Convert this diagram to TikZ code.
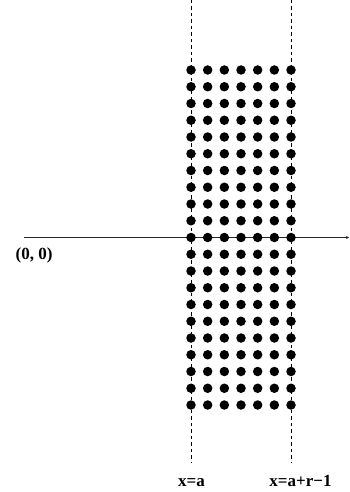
\documentclass[tikz,border=0pt]{standalone}
\usepackage{fontspec}
\setmainfont{Liberation Serif}
\usetikzlibrary{arrows.meta}
\begin{document}
\begin{tikzpicture}[x=1pt,y=-1pt,
  dotnode/.style={circle,fill=black,inner sep=0pt,minimum size=9.5pt},
  guide/.style={line width=0.7pt,dash pattern=on 3.5pt off 3pt},
  axisline/.style={line width=1pt,draw=black!85,-{Stealth[length=3pt,width=3pt]}},
  lbl/.style={font=\fontsize{17}{19}\selectfont\bfseries,inner sep=0pt,anchor=base}]
\useasboundingbox (0,0) rectangle (349,492);
% guide lines
\coordinate (gaTop) at (191,0);
\coordinate (gaBot) at (191,463);
\coordinate (gbTop) at (291,0);
\coordinate (gbBot) at (291,463);
\draw[guide] (gaTop) -- (gaBot);
\draw[guide] (gbTop) -- (gbBot);
% axis
\coordinate (axL) at (24,237.5);
\coordinate (axR) at (349,237.5);
\draw[axisline] (axL) -- (axR);
% dots
\foreach \i in {0,...,6}{
  \foreach \j in {0,...,20}{
    \node[dotnode] (d-\i-\j) at ({191+\i*16.667},{70+\j*16.75}) {};
  }
}
% labels
\node[lbl] (origin) at (34,259.5) {(0, 0)};
\node[lbl] (xa) at (191.5,486) {x=a};
\node[lbl] (xar) at (300.5,486) {x=a+r−1};
\end{tikzpicture}
\end{document}
